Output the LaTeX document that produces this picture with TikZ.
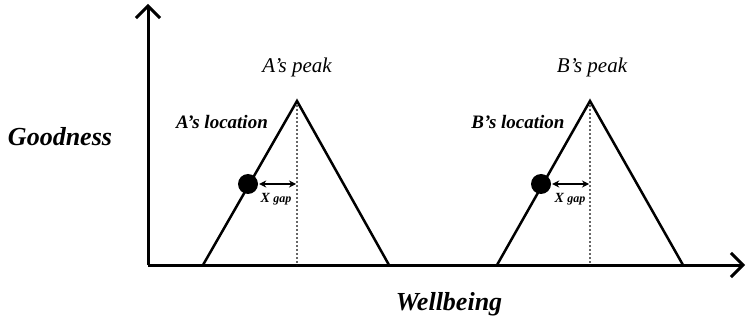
\documentclass[tikz,border=0pt]{standalone}
\usepackage{fontspec}
\setmainfont{Liberation Serif}
\usetikzlibrary{arrows.meta}

\begin{document}
\begin{tikzpicture}[x=1pt, y=-1pt, every node/.style={inner sep=0pt},
	axis/.style={line width=3pt, -{Straight Barb[length=12pt, width=24pt, line width=3pt]}},
	tri/.style={line width=2.5pt, line join=miter},
	peakline/.style={line width=2pt, dash pattern=on 2pt off 2pt, black!60},
	gap/.style={line width=1.5pt, {Stealth[length=7pt, width=7pt]}-{Stealth[length=7pt, width=7pt]}},
	dot/.style={circle, fill=black, minimum size=20pt},
	axlabel/.style={font=\fontsize{26}{30}\selectfont\bfseries\itshape, anchor=base},
	loc/.style={font=\fontsize{19}{22}\selectfont\bfseries\itshape},
	peak/.style={font=\fontsize{21}{24}\selectfont\itshape, anchor=base},
	gaplabel/.style={font=\fontsize{14}{16}\selectfont\bfseries\itshape}]
	\useasboundingbox (0,0) rectangle (746,320);
	% axes
	\coordinate (o) at (148,265);
	\coordinate (ytop) at (148,4);
	\coordinate (xend) at (745,265);
	\draw[axis] (o) -- (ytop);
	\draw[axis] (o) -- (xend);
	\node[axlabel] (good) at (60,146) {Goodness};
	\node[axlabel] (well) at (449,310) {Wellbeing};
	% A
	\coordinate (aL) at (203,265); \coordinate (aP) at (297,101); \coordinate (aR) at (389,265);
	\coordinate (aB) at (297,265); \coordinate (aG) at (296,184);
	\draw[peakline] (aP) -- (aB);
	\draw[tri] (aL) -- (aP) -- (aR);
	\node[dot] (adot) at (248,184) {};
	\draw[gap] (adot.east) ++(1,0) -- (aG);
	\node[gaplabel] (agap) at (276,199) {X {\fontsize{12}{14}\selectfont gap}};
	\node[loc] (aloc) at (222,122) {A's location};
	\node[peak] (apeak) at (297,73) {A's peak};
	% B
	\coordinate (bL) at (497,265); \coordinate (bP) at (590,101); \coordinate (bR) at (683,265);
	\coordinate (bB) at (590,265); \coordinate (bG) at (589,184);
	\draw[peakline] (bP) -- (bB);
	\draw[tri] (bL) -- (bP) -- (bR);
	\node[dot] (bdot) at (541,184) {};
	\draw[gap] (bdot.east) ++(1,0) -- (bG);
	\node[gaplabel] (bgap) at (570,199) {X {\fontsize{12}{14}\selectfont gap}};
	\node[loc] (bloc) at (518,122) {B's location};
	\node[peak] (bpeak) at (592,73) {B's peak};
\end{tikzpicture}
\end{document}
